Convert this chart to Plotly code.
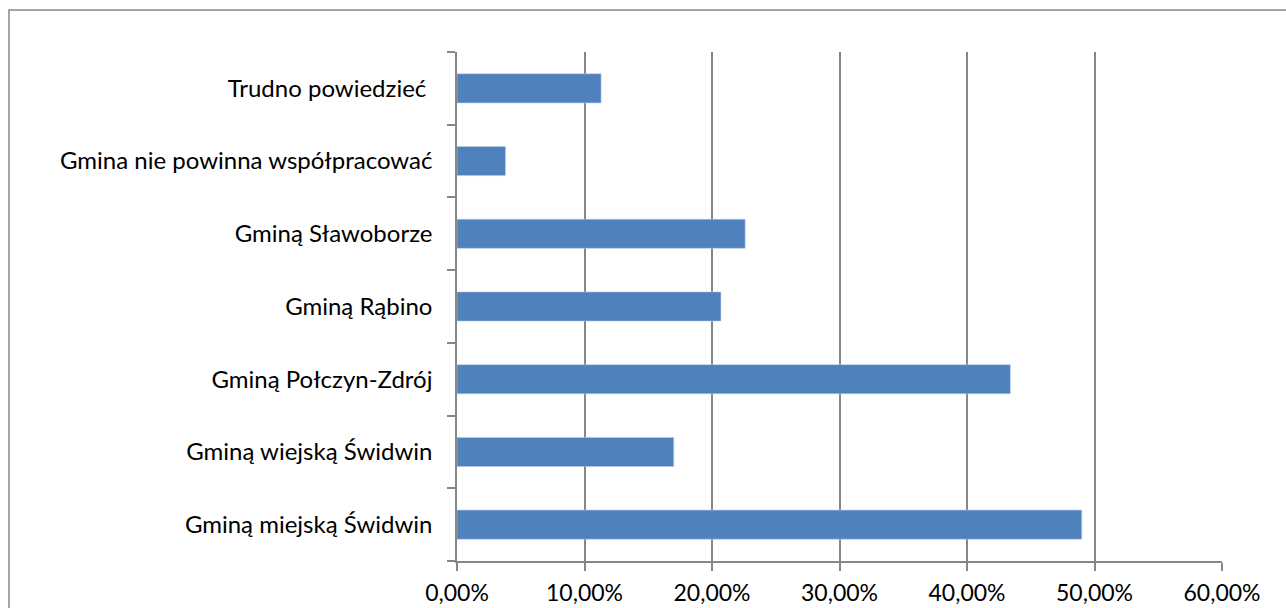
import plotly.graph_objects as go

# Survey answers (bottom to top as drawn) and their shares in percent
categories = [
    "Gminą miejską Świdwin",
    "Gminą wiejską Świdwin",
    "Gminą Połczyn-Zdrój",
    "Gminą Rąbino",
    "Gminą Sławoborze",
    "Gmina nie powinna współpracować",
    "Trudno powiedzieć ",
]
shares_pct = [49.0, 17.0, 43.4, 20.7, 22.6, 3.8, 11.3]
shares = [v / 100 for v in shares_pct]

x_ticks = [0, 0.1, 0.2, 0.3, 0.4, 0.5, 0.6]

FONT = "Lato"
GRID = "#868686"

fig = go.Figure(
    go.Bar(
        y=categories,
        x=shares,
        orientation="h",
        width=0.4,
        marker=dict(color="#4f81bd", line=dict(color="#b9cde5", width=0.6)),
        hoverinfo="x+y",
    )
)

fig.update_layout(
    width=1286,
    height=608,
    margin=dict(l=457, r=64, t=52, b=47, autoexpand=False),
    paper_bgcolor="white",
    plot_bgcolor="white",
    separators=", ",
    showlegend=False,
    font=dict(family=FONT, size=19, color="#000000"),
    xaxis=dict(
        range=[0, 0.6],
        tickvals=x_ticks,
        tickformat=".2%",
        automargin=False,
        showgrid=True,
        gridcolor=GRID,
        gridwidth=1.5,
        zeroline=False,
        showline=True,
        linecolor=GRID,
        linewidth=1.5,
        ticks="outside",
        ticklen=8,
        tickcolor=GRID,
        tickwidth=1.5,
        ticklabelstandoff=3,
        tickfont=dict(family=FONT, size=23),
    ),
    yaxis=dict(
        type="category",
        categoryorder="array",
        categoryarray=categories,
        automargin=False,
        tickson="boundaries",
        showgrid=False,
        showline=True,
        linecolor=GRID,
        linewidth=1.5,
        ticks="outside",
        ticklen=8,
        tickcolor=GRID,
        tickwidth=1.5,
        ticklabelstandoff=18,
        tickfont=dict(family=FONT, size=24),
    ),
    shapes=[
        # chart frame (left and top edges visible inside the page)
        dict(
            type="rect",
            xref="paper",
            yref="paper",
            x0=(9 - 457) / 765,
            x1=(1300 - 457) / 765,
            y0=-0.3,
            y1=1 + (52 - 10) / 509,
            line=dict(color="#868686", width=1.5),
            fillcolor="rgba(0,0,0,0)",
            layer="below",
        )
    ],
)

fig.write_html("out.html")
